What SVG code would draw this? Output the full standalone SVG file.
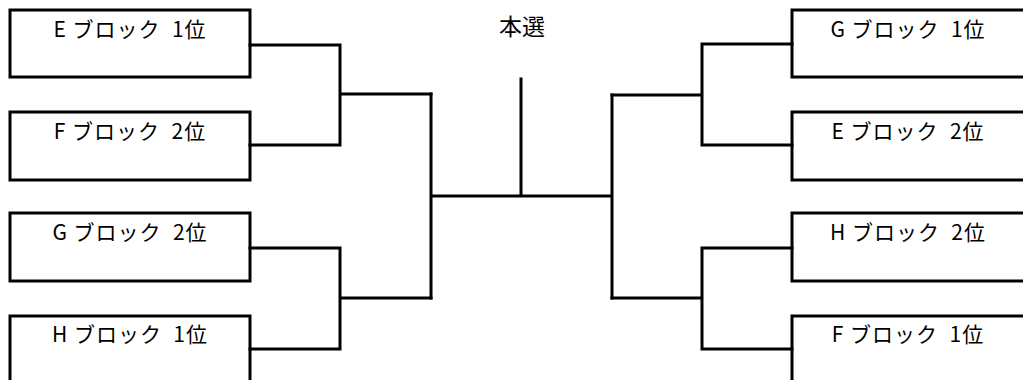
<svg xmlns="http://www.w3.org/2000/svg" width="1023" height="380" viewBox="0 0 1023 380">
<style>
.box{fill:#fff;stroke:#000;stroke-width:3}
.lbl{font-family:"Noto Sans CJK JP","Noto Sans",sans-serif;font-size:21px;letter-spacing:1px;fill:#000;text-anchor:middle;white-space:pre}
.ttl{font-family:"Noto Sans CJK JP","Noto Sans",sans-serif;font-size:23px;fill:#000;text-anchor:middle}
.con{fill:none;stroke:#000;stroke-width:3;stroke-linecap:square}
</style>
<rect width="1023" height="380" fill="#fff"/>
<g id="title"><text class="ttl" x="522" y="35">本選</text></g>
<g id="L1"><rect class="box" x="10" y="10" width="240" height="67"/><text class="lbl" x="130" y="37" xml:space="preserve">E ブロック  1位</text></g>
<g id="L2"><rect class="box" x="10" y="112" width="240" height="68"/><text class="lbl" x="130" y="139" xml:space="preserve">F ブロック  2位</text></g>
<g id="L3"><rect class="box" x="10" y="213" width="240" height="68"/><text class="lbl" x="130" y="240" xml:space="preserve">G ブロック  2位</text></g>
<g id="L4"><rect class="box" x="10" y="316" width="240" height="90"/><text class="lbl" x="130" y="342" xml:space="preserve">H ブロック  1位</text></g>
<g id="R1"><rect class="box" x="792" y="10" width="260" height="67"/><text class="lbl" x="908" y="37" xml:space="preserve">G ブロック  1位</text></g>
<g id="R2"><rect class="box" x="792" y="112" width="260" height="68"/><text class="lbl" x="908" y="139" xml:space="preserve">E ブロック  2位</text></g>
<g id="R3"><rect class="box" x="792" y="213" width="260" height="68"/><text class="lbl" x="908" y="240" xml:space="preserve">H ブロック  2位</text></g>
<g id="R4"><rect class="box" x="792" y="316" width="260" height="90"/><text class="lbl" x="908" y="342" xml:space="preserve">F ブロック  1位</text></g>
<g id="connectors">
<path class="con" d="M250 45H340V145H250M340 94H431"/>
<path class="con" d="M250 248H340V349H250M340 298H431"/>
<path class="con" d="M431 94V298M431 196H612M521 79V196M612 95V298"/>
<path class="con" d="M792 44H702V145H792M702 95H612"/>
<path class="con" d="M792 248H702V349H792M702 298H612"/>
</g>
</svg>
